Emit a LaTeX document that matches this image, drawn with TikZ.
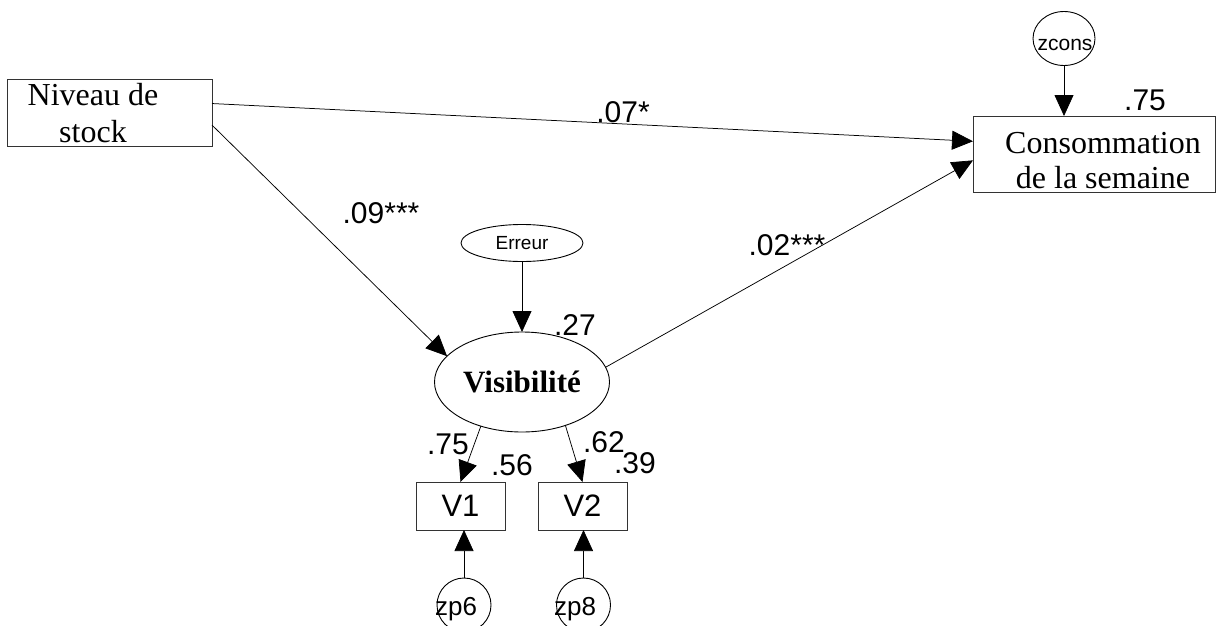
\documentclass[tikz,border=0pt]{standalone}
\usepackage{fontspec}
\setmainfont{Liberation Serif}
\newfontfamily\arialf{Liberation Sans}
\usetikzlibrary{arrows.meta,shapes.geometric,calc}
\begin{document}
\begin{tikzpicture}[x=1pt,y=-1pt,
  every node/.style={inner sep=0pt, outer sep=0pt},
  box/.style={draw=black!80, line width=0.9pt},
  latent/.style={ellipse, draw=black, line width=0.9pt},
  errc/.style={circle, draw=black, line width=0.9pt},
  conn/.style={draw=black, line width=0.75pt, -{Triangle[length=21pt,width=19pt]}},
  num/.style={font=\arialf\fontsize{30}{30}\selectfont},
  smalltxt/.style={font=\arialf\fontsize{#1}{#1}\selectfont},
]
\useasboundingbox (0,0) rectangle (1223,626);
\clip (0,0) rectangle (1223,626);
\fill[white] (0,0) rectangle (1223,626);

% observed boxes
\node[box, minimum width=205pt, minimum height=67pt] (niveau) at (109.5,112.5) {};
\node[font=\fontsize{32}{37}\selectfont, align=center, anchor=base] (niveauT) at (93,142) {Niveau de\\stock};

\node[box, minimum width=242pt, minimum height=76pt] (cons) at (1094,154) {};
\node[font=\fontsize{32}{35}\selectfont, align=center, anchor=base] (consT) at (1103,188) {Consommation\\de la semaine};

% latent variable and error
\node[latent, minimum width=175pt, minimum height=100pt, font=\bfseries\fontsize{31}{31}\selectfont] (vis) at (522,382) {Visibilité};
\node[latent, minimum width=122pt, minimum height=37pt, smalltxt=19] (err) at (522,243) {Erreur};

% zcons
\node[ellipse, draw=black, line width=0.9pt, minimum width=62pt, minimum height=54pt] (zc) at (1064,38.5) {};
\node[smalltxt=21] (zcT) at (1065,45) {zcons};

% indicators
\node[box, minimum width=89pt, minimum height=48pt, smalltxt=31] (v1) at (460.5,506) {V1};
\node[box, minimum width=89pt, minimum height=48pt, smalltxt=31] (v2) at (582.5,506) {V2};

% indicator errors
\node[errc, minimum size=54pt] (zp6) at (464,605) {};
\node[smalltxt=26] (zp6T) at (456,609) {zp6};
\node[errc, minimum size=54pt] (zp8) at (583.5,605) {};
\node[smalltxt=26] (zp8T) at (575,609) {zp8};

% paths
\draw[conn] (niveau.5.85) -- (cons.174.3);
\draw[conn] (niveau.-7) -- (vis.161);
\draw[conn] (vis.10) -- (cons.-177.2);
\draw[conn] (err.south) -- (vis.north);
\draw[conn] (zc.south) -- (zc.south |- cons.north);
\draw[conn] (vis.227) -- (v1.north);
\draw[conn] (vis.315) -- (v2.north);
\draw[conn] (zp6.north) -- (zp6.north |- v1.south);
\draw[conn] (zp8.north) -- (zp8.north |- v2.south);

% coefficients
\node[num] (c07) at (623,112) {.07*};
\node[num] (c09) at (381,213) {.09***};
\node[num] (c02) at (787,245) {.02***};
\node[num] (r27) at (575,325) {.27};
\node[num] (r75) at (1145,100) {.75};
\node[num] (l75) at (448,444) {.75};
\node[num] (r56) at (512,465) {.56};
\node[num] (l62) at (604,442) {.62};
\node[num] (r39) at (635,463) {.39};
\end{tikzpicture}
\end{document}
